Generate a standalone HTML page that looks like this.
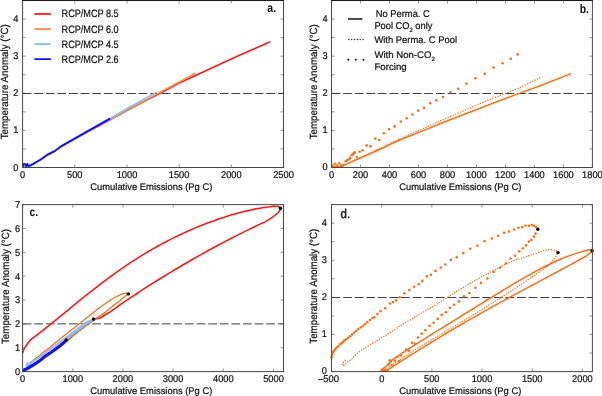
<!DOCTYPE html><html><head><meta charset="utf-8"><style>html,body{margin:0;padding:0;background:#fff;}svg{display:block;will-change:transform;}</style></head><body><svg width="602" height="396" viewBox="0 0 602 396" text-rendering="geometricPrecision" font-family='"Liberation Sans", sans-serif'>
<rect width="602" height="396" fill="#fff" fill-opacity="0.999"/>
<line x1="22.60" y1="167.50" x2="22.60" y2="164.50" stroke="#666" stroke-width="0.7"/>
<line x1="22.60" y1="0.50" x2="22.60" y2="3.50" stroke="#666" stroke-width="0.7"/>
<line x1="74.78" y1="167.50" x2="74.78" y2="164.50" stroke="#666" stroke-width="0.7"/>
<line x1="74.78" y1="0.50" x2="74.78" y2="3.50" stroke="#666" stroke-width="0.7"/>
<line x1="126.96" y1="167.50" x2="126.96" y2="164.50" stroke="#666" stroke-width="0.7"/>
<line x1="126.96" y1="0.50" x2="126.96" y2="3.50" stroke="#666" stroke-width="0.7"/>
<line x1="179.14" y1="167.50" x2="179.14" y2="164.50" stroke="#666" stroke-width="0.7"/>
<line x1="179.14" y1="0.50" x2="179.14" y2="3.50" stroke="#666" stroke-width="0.7"/>
<line x1="231.32" y1="167.50" x2="231.32" y2="164.50" stroke="#666" stroke-width="0.7"/>
<line x1="231.32" y1="0.50" x2="231.32" y2="3.50" stroke="#666" stroke-width="0.7"/>
<line x1="283.50" y1="167.50" x2="283.50" y2="164.50" stroke="#666" stroke-width="0.7"/>
<line x1="283.50" y1="0.50" x2="283.50" y2="3.50" stroke="#666" stroke-width="0.7"/>
<line x1="22.60" y1="167.50" x2="25.60" y2="167.50" stroke="#666" stroke-width="0.7"/>
<line x1="283.50" y1="167.50" x2="280.50" y2="167.50" stroke="#666" stroke-width="0.7"/>
<line x1="22.60" y1="148.94" x2="25.60" y2="148.94" stroke="#666" stroke-width="0.7"/>
<line x1="283.50" y1="148.94" x2="280.50" y2="148.94" stroke="#666" stroke-width="0.7"/>
<line x1="22.60" y1="130.39" x2="25.60" y2="130.39" stroke="#666" stroke-width="0.7"/>
<line x1="283.50" y1="130.39" x2="280.50" y2="130.39" stroke="#666" stroke-width="0.7"/>
<line x1="22.60" y1="111.83" x2="25.60" y2="111.83" stroke="#666" stroke-width="0.7"/>
<line x1="283.50" y1="111.83" x2="280.50" y2="111.83" stroke="#666" stroke-width="0.7"/>
<line x1="22.60" y1="93.28" x2="25.60" y2="93.28" stroke="#666" stroke-width="0.7"/>
<line x1="283.50" y1="93.28" x2="280.50" y2="93.28" stroke="#666" stroke-width="0.7"/>
<line x1="22.60" y1="74.72" x2="25.60" y2="74.72" stroke="#666" stroke-width="0.7"/>
<line x1="283.50" y1="74.72" x2="280.50" y2="74.72" stroke="#666" stroke-width="0.7"/>
<line x1="22.60" y1="56.17" x2="25.60" y2="56.17" stroke="#666" stroke-width="0.7"/>
<line x1="283.50" y1="56.17" x2="280.50" y2="56.17" stroke="#666" stroke-width="0.7"/>
<line x1="22.60" y1="37.61" x2="25.60" y2="37.61" stroke="#666" stroke-width="0.7"/>
<line x1="283.50" y1="37.61" x2="280.50" y2="37.61" stroke="#666" stroke-width="0.7"/>
<line x1="22.60" y1="19.06" x2="25.60" y2="19.06" stroke="#666" stroke-width="0.7"/>
<line x1="283.50" y1="19.06" x2="280.50" y2="19.06" stroke="#666" stroke-width="0.7"/>
<line x1="22.60" y1="0.50" x2="25.60" y2="0.50" stroke="#666" stroke-width="0.7"/>
<line x1="283.50" y1="0.50" x2="280.50" y2="0.50" stroke="#666" stroke-width="0.7"/>
<text x="22.6" y="177.9" font-size="9.8" text-anchor="middle" font-weight="normal" fill="#111" stroke="#111" stroke-width="0.22" textLength="5.15" lengthAdjust="spacingAndGlyphs">0</text>
<text x="74.8" y="177.9" font-size="9.8" text-anchor="middle" font-weight="normal" fill="#111" stroke="#111" stroke-width="0.22" textLength="15.45" lengthAdjust="spacingAndGlyphs">500</text>
<text x="127.0" y="177.9" font-size="9.8" text-anchor="middle" font-weight="normal" fill="#111" stroke="#111" stroke-width="0.22" textLength="20.60" lengthAdjust="spacingAndGlyphs">1000</text>
<text x="179.1" y="177.9" font-size="9.8" text-anchor="middle" font-weight="normal" fill="#111" stroke="#111" stroke-width="0.22" textLength="20.60" lengthAdjust="spacingAndGlyphs">1500</text>
<text x="231.3" y="177.9" font-size="9.8" text-anchor="middle" font-weight="normal" fill="#111" stroke="#111" stroke-width="0.22" textLength="20.60" lengthAdjust="spacingAndGlyphs">2000</text>
<text x="283.5" y="177.9" font-size="9.8" text-anchor="middle" font-weight="normal" fill="#111" stroke="#111" stroke-width="0.22" textLength="20.60" lengthAdjust="spacingAndGlyphs">2500</text>
<text x="18.3" y="170.5" font-size="9.8" text-anchor="end" font-weight="normal" fill="#111" stroke="#111" stroke-width="0.22" textLength="5.15" lengthAdjust="spacingAndGlyphs">0</text>
<text x="18.3" y="133.4" font-size="9.8" text-anchor="end" font-weight="normal" fill="#111" stroke="#111" stroke-width="0.22" textLength="5.15" lengthAdjust="spacingAndGlyphs">1</text>
<text x="18.3" y="96.3" font-size="9.8" text-anchor="end" font-weight="normal" fill="#111" stroke="#111" stroke-width="0.22" textLength="5.15" lengthAdjust="spacingAndGlyphs">2</text>
<text x="18.3" y="59.2" font-size="9.8" text-anchor="end" font-weight="normal" fill="#111" stroke="#111" stroke-width="0.22" textLength="5.15" lengthAdjust="spacingAndGlyphs">3</text>
<text x="18.3" y="22.1" font-size="9.8" text-anchor="end" font-weight="normal" fill="#111" stroke="#111" stroke-width="0.22" textLength="5.15" lengthAdjust="spacingAndGlyphs">4</text>
<line x1="22.60" y1="93.50" x2="283.50" y2="93.50" stroke="#404040" stroke-width="1.0" stroke-dasharray="8.8 2.8"/>
<polyline points="22.8,167.0 33.9,163.6 40.8,159.4 47.8,154.6 54.7,151.1 60.3,146.9 68.6,142.1 80.0,135.6 100.0,125.3 130.0,108.9 150.0,98.4 165.0,90.7 180.3,82.4 195.0,75.7 210.0,68.8 240.0,55.0 255.0,48.4 269.5,41.9" fill="none" stroke="#ff1a1a" stroke-width="1.6" stroke-linejoin="round" stroke-linecap="round" />
<polyline points="22.8,167.0 33.9,163.6 40.8,159.4 47.8,154.6 54.7,151.1 60.3,146.9 68.6,142.1 80.0,135.6 100.0,125.0 130.0,108.5 150.0,97.9 157.0,94.0 176.0,83.8 195.1,73.5" fill="none" stroke="#ff8a3d" stroke-width="1.6" stroke-linejoin="round" stroke-linecap="round" />
<polyline points="22.8,166.7 33.9,163.3 40.8,159.1 47.8,154.3 54.7,150.8 60.3,146.6 68.6,141.8 80.0,135.3 109.5,118.7 130.0,107.0 156.2,92.4" fill="none" stroke="#80bfff" stroke-width="1.6" stroke-linejoin="round" stroke-linecap="round" />
<polyline points="22.8,166.8 23.5,163.8 24.9,163.9 26.0,166.2 27.4,163.7 28.3,166.2 31.1,165.3 33.9,163.6 40.8,159.4 47.8,154.6 54.7,151.1 60.3,146.9 68.6,142.1 80.0,135.6 109.5,118.9" fill="none" stroke="#1010ff" stroke-width="1.8" stroke-linejoin="round" stroke-linecap="round" />
<line x1="34.4" y1="14.00" x2="50.8" y2="14.00" stroke="#ff1a1a" stroke-width="1.8"/>
<text x="61.6" y="17.4" font-size="10.6" text-anchor="start" font-weight="normal" fill="#111" stroke="#111" stroke-width="0.22" textLength="57" lengthAdjust="spacingAndGlyphs">RCP/MCP 8.5</text>
<line x1="34.4" y1="29.05" x2="50.8" y2="29.05" stroke="#ff8a3d" stroke-width="1.8"/>
<text x="61.6" y="32.5" font-size="10.6" text-anchor="start" font-weight="normal" fill="#111" stroke="#111" stroke-width="0.22" textLength="57" lengthAdjust="spacingAndGlyphs">RCP/MCP 6.0</text>
<line x1="34.4" y1="44.10" x2="50.8" y2="44.10" stroke="#80bfff" stroke-width="1.8"/>
<text x="61.6" y="47.5" font-size="10.6" text-anchor="start" font-weight="normal" fill="#111" stroke="#111" stroke-width="0.22" textLength="57" lengthAdjust="spacingAndGlyphs">RCP/MCP 4.5</text>
<line x1="34.4" y1="59.15" x2="50.8" y2="59.15" stroke="#1010ff" stroke-width="1.8"/>
<text x="61.6" y="62.6" font-size="10.6" text-anchor="start" font-weight="normal" fill="#111" stroke="#111" stroke-width="0.22" textLength="57" lengthAdjust="spacingAndGlyphs">RCP/MCP 2.6</text>
<text x="267.3" y="11.9" font-size="12.5" text-anchor="start" font-weight="bold" fill="#111"  textLength="8.8" lengthAdjust="spacingAndGlyphs">a.</text>
<rect x="22.60" y="0.50" width="260.90" height="167.00" fill="none" stroke="#484848" stroke-width="1"/>
<line x1="22.10" y1="0.5" x2="284.00" y2="0.5" stroke="#1a1a1a" stroke-width="1"/>
<text x="151.3" y="189.9" font-size="9.6" text-anchor="middle" font-weight="normal" fill="#111" stroke="#111" stroke-width="0.22" textLength="122" lengthAdjust="spacingAndGlyphs">Cumulative Emissions (Pg C)</text>
<text transform="translate(7.6,81.8) rotate(-90)" x="0" y="0" font-size="10.4" text-anchor="middle" fill="#111" stroke="#111" stroke-width="0.22" textLength="115" lengthAdjust="spacingAndGlyphs">Temperature Anomaly (°C)</text>
<line x1="331.50" y1="167.50" x2="331.50" y2="164.50" stroke="#666" stroke-width="0.7"/>
<line x1="331.50" y1="0.50" x2="331.50" y2="3.50" stroke="#666" stroke-width="0.7"/>
<line x1="360.49" y1="167.50" x2="360.49" y2="164.50" stroke="#666" stroke-width="0.7"/>
<line x1="360.49" y1="0.50" x2="360.49" y2="3.50" stroke="#666" stroke-width="0.7"/>
<line x1="389.48" y1="167.50" x2="389.48" y2="164.50" stroke="#666" stroke-width="0.7"/>
<line x1="389.48" y1="0.50" x2="389.48" y2="3.50" stroke="#666" stroke-width="0.7"/>
<line x1="418.47" y1="167.50" x2="418.47" y2="164.50" stroke="#666" stroke-width="0.7"/>
<line x1="418.47" y1="0.50" x2="418.47" y2="3.50" stroke="#666" stroke-width="0.7"/>
<line x1="447.46" y1="167.50" x2="447.46" y2="164.50" stroke="#666" stroke-width="0.7"/>
<line x1="447.46" y1="0.50" x2="447.46" y2="3.50" stroke="#666" stroke-width="0.7"/>
<line x1="476.44" y1="167.50" x2="476.44" y2="164.50" stroke="#666" stroke-width="0.7"/>
<line x1="476.44" y1="0.50" x2="476.44" y2="3.50" stroke="#666" stroke-width="0.7"/>
<line x1="505.43" y1="167.50" x2="505.43" y2="164.50" stroke="#666" stroke-width="0.7"/>
<line x1="505.43" y1="0.50" x2="505.43" y2="3.50" stroke="#666" stroke-width="0.7"/>
<line x1="534.42" y1="167.50" x2="534.42" y2="164.50" stroke="#666" stroke-width="0.7"/>
<line x1="534.42" y1="0.50" x2="534.42" y2="3.50" stroke="#666" stroke-width="0.7"/>
<line x1="563.41" y1="167.50" x2="563.41" y2="164.50" stroke="#666" stroke-width="0.7"/>
<line x1="563.41" y1="0.50" x2="563.41" y2="3.50" stroke="#666" stroke-width="0.7"/>
<line x1="592.40" y1="167.50" x2="592.40" y2="164.50" stroke="#666" stroke-width="0.7"/>
<line x1="592.40" y1="0.50" x2="592.40" y2="3.50" stroke="#666" stroke-width="0.7"/>
<line x1="331.50" y1="167.50" x2="334.50" y2="167.50" stroke="#666" stroke-width="0.7"/>
<line x1="592.40" y1="167.50" x2="589.40" y2="167.50" stroke="#666" stroke-width="0.7"/>
<line x1="331.50" y1="148.94" x2="334.50" y2="148.94" stroke="#666" stroke-width="0.7"/>
<line x1="592.40" y1="148.94" x2="589.40" y2="148.94" stroke="#666" stroke-width="0.7"/>
<line x1="331.50" y1="130.39" x2="334.50" y2="130.39" stroke="#666" stroke-width="0.7"/>
<line x1="592.40" y1="130.39" x2="589.40" y2="130.39" stroke="#666" stroke-width="0.7"/>
<line x1="331.50" y1="111.83" x2="334.50" y2="111.83" stroke="#666" stroke-width="0.7"/>
<line x1="592.40" y1="111.83" x2="589.40" y2="111.83" stroke="#666" stroke-width="0.7"/>
<line x1="331.50" y1="93.28" x2="334.50" y2="93.28" stroke="#666" stroke-width="0.7"/>
<line x1="592.40" y1="93.28" x2="589.40" y2="93.28" stroke="#666" stroke-width="0.7"/>
<line x1="331.50" y1="74.72" x2="334.50" y2="74.72" stroke="#666" stroke-width="0.7"/>
<line x1="592.40" y1="74.72" x2="589.40" y2="74.72" stroke="#666" stroke-width="0.7"/>
<line x1="331.50" y1="56.17" x2="334.50" y2="56.17" stroke="#666" stroke-width="0.7"/>
<line x1="592.40" y1="56.17" x2="589.40" y2="56.17" stroke="#666" stroke-width="0.7"/>
<line x1="331.50" y1="37.61" x2="334.50" y2="37.61" stroke="#666" stroke-width="0.7"/>
<line x1="592.40" y1="37.61" x2="589.40" y2="37.61" stroke="#666" stroke-width="0.7"/>
<line x1="331.50" y1="19.06" x2="334.50" y2="19.06" stroke="#666" stroke-width="0.7"/>
<line x1="592.40" y1="19.06" x2="589.40" y2="19.06" stroke="#666" stroke-width="0.7"/>
<line x1="331.50" y1="0.50" x2="334.50" y2="0.50" stroke="#666" stroke-width="0.7"/>
<line x1="592.40" y1="0.50" x2="589.40" y2="0.50" stroke="#666" stroke-width="0.7"/>
<text x="331.5" y="177.9" font-size="9.8" text-anchor="middle" font-weight="normal" fill="#111" stroke="#111" stroke-width="0.22" textLength="5.15" lengthAdjust="spacingAndGlyphs">0</text>
<text x="360.5" y="177.9" font-size="9.8" text-anchor="middle" font-weight="normal" fill="#111" stroke="#111" stroke-width="0.22" textLength="15.45" lengthAdjust="spacingAndGlyphs">200</text>
<text x="389.5" y="177.9" font-size="9.8" text-anchor="middle" font-weight="normal" fill="#111" stroke="#111" stroke-width="0.22" textLength="15.45" lengthAdjust="spacingAndGlyphs">400</text>
<text x="418.5" y="177.9" font-size="9.8" text-anchor="middle" font-weight="normal" fill="#111" stroke="#111" stroke-width="0.22" textLength="15.45" lengthAdjust="spacingAndGlyphs">600</text>
<text x="447.5" y="177.9" font-size="9.8" text-anchor="middle" font-weight="normal" fill="#111" stroke="#111" stroke-width="0.22" textLength="15.45" lengthAdjust="spacingAndGlyphs">800</text>
<text x="476.4" y="177.9" font-size="9.8" text-anchor="middle" font-weight="normal" fill="#111" stroke="#111" stroke-width="0.22" textLength="20.60" lengthAdjust="spacingAndGlyphs">1000</text>
<text x="505.4" y="177.9" font-size="9.8" text-anchor="middle" font-weight="normal" fill="#111" stroke="#111" stroke-width="0.22" textLength="20.60" lengthAdjust="spacingAndGlyphs">1200</text>
<text x="534.4" y="177.9" font-size="9.8" text-anchor="middle" font-weight="normal" fill="#111" stroke="#111" stroke-width="0.22" textLength="20.60" lengthAdjust="spacingAndGlyphs">1400</text>
<text x="563.4" y="177.9" font-size="9.8" text-anchor="middle" font-weight="normal" fill="#111" stroke="#111" stroke-width="0.22" textLength="20.60" lengthAdjust="spacingAndGlyphs">1600</text>
<text x="592.4" y="177.9" font-size="9.8" text-anchor="middle" font-weight="normal" fill="#111" stroke="#111" stroke-width="0.22" textLength="20.60" lengthAdjust="spacingAndGlyphs">1800</text>
<text x="327.6" y="170.2" font-size="9.8" text-anchor="end" font-weight="normal" fill="#111" stroke="#111" stroke-width="0.22" textLength="5.15" lengthAdjust="spacingAndGlyphs">0</text>
<text x="327.6" y="133.1" font-size="9.8" text-anchor="end" font-weight="normal" fill="#111" stroke="#111" stroke-width="0.22" textLength="5.15" lengthAdjust="spacingAndGlyphs">1</text>
<text x="327.6" y="96.0" font-size="9.8" text-anchor="end" font-weight="normal" fill="#111" stroke="#111" stroke-width="0.22" textLength="5.15" lengthAdjust="spacingAndGlyphs">2</text>
<text x="327.6" y="58.9" font-size="9.8" text-anchor="end" font-weight="normal" fill="#111" stroke="#111" stroke-width="0.22" textLength="5.15" lengthAdjust="spacingAndGlyphs">3</text>
<text x="327.6" y="21.8" font-size="9.8" text-anchor="end" font-weight="normal" fill="#111" stroke="#111" stroke-width="0.22" textLength="5.15" lengthAdjust="spacingAndGlyphs">4</text>
<line x1="331.50" y1="93.50" x2="592.40" y2="93.50" stroke="#404040" stroke-width="1.0" stroke-dasharray="8.8 2.8"/>
<polyline points="331.8,166.8 338.0,166.7 341.0,166.4 345.0,164.9 354.9,160.4 364.9,156.0 374.9,151.5 384.9,147.0 395.0,142.0 420.0,131.9 450.0,119.8 475.4,110.0 500.0,100.5 520.0,93.1 540.0,85.8 570.5,73.9" fill="none" stroke="#ff6e14" stroke-width="1.5" stroke-linejoin="round" stroke-linecap="round" />
<polyline points="331.8,166.6 341.0,166.2 345.0,164.6 354.9,160.0 364.9,155.4 374.9,150.8 384.9,146.1 395.0,141.0 420.0,130.0 450.0,116.6 470.0,108.0 490.0,99.3 520.0,87.7 541.4,76.8" fill="none" stroke="#ff6e14" stroke-width="1.4" stroke-linejoin="round" stroke-linecap="round" stroke-dasharray="0.1 2.6"/>
<circle cx="332.3" cy="165.6" r="1.3" fill="#ff6e14"/>
<circle cx="334.6" cy="163.9" r="1.3" fill="#ff6e14"/>
<circle cx="336.8" cy="165.6" r="1.3" fill="#ff6e14"/>
<circle cx="339.2" cy="163.4" r="1.3" fill="#ff6e14"/>
<circle cx="341.3" cy="165.3" r="1.3" fill="#ff6e14"/>
<circle cx="343.4" cy="165.2" r="1.3" fill="#ff6e14"/>
<circle cx="345.7" cy="161.3" r="1.3" fill="#ff6e14"/>
<circle cx="347.2" cy="160.3" r="1.3" fill="#ff6e14"/>
<circle cx="348.7" cy="159.3" r="1.3" fill="#ff6e14"/>
<circle cx="350.2" cy="157.8" r="1.3" fill="#ff6e14"/>
<circle cx="351.7" cy="155.3" r="1.3" fill="#ff6e14"/>
<circle cx="352.7" cy="154.2" r="1.3" fill="#ff6e14"/>
<circle cx="353.7" cy="153.2" r="1.3" fill="#ff6e14"/>
<circle cx="354.7" cy="152.4" r="1.3" fill="#ff6e14"/>
<circle cx="356.8" cy="157.1" r="1.3" fill="#ff6e14"/>
<circle cx="359.6" cy="151.7" r="1.3" fill="#ff6e14"/>
<circle cx="362.6" cy="150.2" r="1.3" fill="#ff6e14"/>
<circle cx="366.6" cy="145.4" r="1.3" fill="#ff6e14"/>
<circle cx="370.6" cy="146.4" r="1.3" fill="#ff6e14"/>
<circle cx="375.2" cy="138.8" r="1.3" fill="#ff6e14"/>
<circle cx="379.2" cy="140.0" r="1.3" fill="#ff6e14"/>
<circle cx="383.9" cy="133.2" r="1.3" fill="#ff6e14"/>
<circle cx="389.1" cy="129.3" r="1.3" fill="#ff6e14"/>
<circle cx="394.6" cy="126.4" r="1.3" fill="#ff6e14"/>
<circle cx="400.8" cy="121.5" r="1.3" fill="#ff6e14"/>
<circle cx="406.6" cy="118.3" r="1.3" fill="#ff6e14"/>
<circle cx="412.4" cy="114.5" r="1.3" fill="#ff6e14"/>
<circle cx="418.1" cy="110.6" r="1.3" fill="#ff6e14"/>
<circle cx="423.9" cy="107.9" r="1.3" fill="#ff6e14"/>
<circle cx="430.1" cy="103.3" r="1.3" fill="#ff6e14"/>
<circle cx="436.3" cy="100.3" r="1.3" fill="#ff6e14"/>
<circle cx="443.0" cy="97.1" r="1.3" fill="#ff6e14"/>
<circle cx="450.4" cy="92.2" r="1.3" fill="#ff6e14"/>
<circle cx="458.2" cy="88.8" r="1.3" fill="#ff6e14"/>
<circle cx="466.5" cy="83.7" r="1.3" fill="#ff6e14"/>
<circle cx="475.4" cy="78.2" r="1.3" fill="#ff6e14"/>
<circle cx="484.7" cy="73.9" r="1.3" fill="#ff6e14"/>
<circle cx="493.5" cy="67.6" r="1.3" fill="#ff6e14"/>
<circle cx="502.6" cy="63.3" r="1.3" fill="#ff6e14"/>
<circle cx="510.7" cy="58.8" r="1.3" fill="#ff6e14"/>
<circle cx="517.6" cy="54.4" r="1.3" fill="#ff6e14"/>
<line x1="348" y1="19.0" x2="362.4" y2="19.0" stroke="#111" stroke-width="1.5"/>
<circle cx="348.8" cy="39.6" r="0.75" fill="#2a2a2a"/>
<circle cx="351.7" cy="39.6" r="0.75" fill="#2a2a2a"/>
<circle cx="354.5" cy="39.6" r="0.75" fill="#2a2a2a"/>
<circle cx="357.4" cy="39.6" r="0.75" fill="#2a2a2a"/>
<circle cx="360.2" cy="39.6" r="0.75" fill="#2a2a2a"/>
<circle cx="363.1" cy="39.6" r="0.75" fill="#2a2a2a"/>
<circle cx="348.3" cy="59.8" r="1.0" fill="#111"/>
<circle cx="355.8" cy="59.8" r="1.0" fill="#111"/>
<circle cx="363.5" cy="59.8" r="1.0" fill="#111"/>
<text x="402.8" y="17.2" font-size="9.8" text-anchor="middle" font-weight="normal" fill="#111" stroke="#111" stroke-width="0.22" textLength="54" lengthAdjust="spacingAndGlyphs">No Perma. C</text>
<text x="374.4" y="29.1" font-size="9.8" text-anchor="start" font-weight="normal" fill="#111" stroke="#111" stroke-width="0.22" textLength="58" lengthAdjust="spacingAndGlyphs">Pool CO<tspan font-size="6.2" dy="2.6">2</tspan><tspan dy="-2.6"> only</tspan></text>
<text x="374.4" y="43.2" font-size="9.6" text-anchor="start" font-weight="normal" fill="#111" stroke="#111" stroke-width="0.22" textLength="82.6" lengthAdjust="spacingAndGlyphs">With Perma. C Pool</text>
<text x="374.4" y="58.2" font-size="9.6" text-anchor="start" font-weight="normal" fill="#111" stroke="#111" stroke-width="0.22" >With Non-CO<tspan font-size="6.2" dy="2.6">2</tspan></text>
<text x="374.4" y="70.2" font-size="9.6" text-anchor="start" font-weight="normal" fill="#111" stroke="#111" stroke-width="0.22" textLength="32.3" lengthAdjust="spacingAndGlyphs">Forcing</text>
<text x="579.8" y="13.3" font-size="12.5" text-anchor="start" font-weight="bold" fill="#111"  textLength="9.2" lengthAdjust="spacingAndGlyphs">b.</text>
<rect x="331.50" y="0.50" width="260.90" height="167.00" fill="none" stroke="#484848" stroke-width="1"/>
<line x1="331.00" y1="0.5" x2="592.90" y2="0.5" stroke="#1a1a1a" stroke-width="1"/>
<text x="460.3" y="189.9" font-size="9.6" text-anchor="middle" font-weight="normal" fill="#111" stroke="#111" stroke-width="0.22" textLength="122" lengthAdjust="spacingAndGlyphs">Cumulative Emissions (Pg C)</text>
<text transform="translate(317.2,81.8) rotate(-90)" x="0" y="0" font-size="10.4" text-anchor="middle" fill="#111" stroke="#111" stroke-width="0.22" textLength="115" lengthAdjust="spacingAndGlyphs">Temperature Anomaly (°C)</text>
<line x1="22.60" y1="371.60" x2="22.60" y2="368.60" stroke="#666" stroke-width="0.7"/>
<line x1="22.60" y1="204.60" x2="22.60" y2="207.60" stroke="#666" stroke-width="0.7"/>
<line x1="72.77" y1="371.60" x2="72.77" y2="368.60" stroke="#666" stroke-width="0.7"/>
<line x1="72.77" y1="204.60" x2="72.77" y2="207.60" stroke="#666" stroke-width="0.7"/>
<line x1="122.95" y1="371.60" x2="122.95" y2="368.60" stroke="#666" stroke-width="0.7"/>
<line x1="122.95" y1="204.60" x2="122.95" y2="207.60" stroke="#666" stroke-width="0.7"/>
<line x1="173.12" y1="371.60" x2="173.12" y2="368.60" stroke="#666" stroke-width="0.7"/>
<line x1="173.12" y1="204.60" x2="173.12" y2="207.60" stroke="#666" stroke-width="0.7"/>
<line x1="223.29" y1="371.60" x2="223.29" y2="368.60" stroke="#666" stroke-width="0.7"/>
<line x1="223.29" y1="204.60" x2="223.29" y2="207.60" stroke="#666" stroke-width="0.7"/>
<line x1="273.47" y1="371.60" x2="273.47" y2="368.60" stroke="#666" stroke-width="0.7"/>
<line x1="273.47" y1="204.60" x2="273.47" y2="207.60" stroke="#666" stroke-width="0.7"/>
<line x1="22.60" y1="371.60" x2="25.60" y2="371.60" stroke="#666" stroke-width="0.7"/>
<line x1="283.50" y1="371.60" x2="280.50" y2="371.60" stroke="#666" stroke-width="0.7"/>
<line x1="22.60" y1="347.74" x2="25.60" y2="347.74" stroke="#666" stroke-width="0.7"/>
<line x1="283.50" y1="347.74" x2="280.50" y2="347.74" stroke="#666" stroke-width="0.7"/>
<line x1="22.60" y1="323.89" x2="25.60" y2="323.89" stroke="#666" stroke-width="0.7"/>
<line x1="283.50" y1="323.89" x2="280.50" y2="323.89" stroke="#666" stroke-width="0.7"/>
<line x1="22.60" y1="300.03" x2="25.60" y2="300.03" stroke="#666" stroke-width="0.7"/>
<line x1="283.50" y1="300.03" x2="280.50" y2="300.03" stroke="#666" stroke-width="0.7"/>
<line x1="22.60" y1="276.17" x2="25.60" y2="276.17" stroke="#666" stroke-width="0.7"/>
<line x1="283.50" y1="276.17" x2="280.50" y2="276.17" stroke="#666" stroke-width="0.7"/>
<line x1="22.60" y1="252.31" x2="25.60" y2="252.31" stroke="#666" stroke-width="0.7"/>
<line x1="283.50" y1="252.31" x2="280.50" y2="252.31" stroke="#666" stroke-width="0.7"/>
<line x1="22.60" y1="228.46" x2="25.60" y2="228.46" stroke="#666" stroke-width="0.7"/>
<line x1="283.50" y1="228.46" x2="280.50" y2="228.46" stroke="#666" stroke-width="0.7"/>
<line x1="22.60" y1="204.60" x2="25.60" y2="204.60" stroke="#666" stroke-width="0.7"/>
<line x1="283.50" y1="204.60" x2="280.50" y2="204.60" stroke="#666" stroke-width="0.7"/>
<text x="22.6" y="382.0" font-size="9.8" text-anchor="middle" font-weight="normal" fill="#111" stroke="#111" stroke-width="0.22" textLength="5.15" lengthAdjust="spacingAndGlyphs">0</text>
<text x="72.8" y="382.0" font-size="9.8" text-anchor="middle" font-weight="normal" fill="#111" stroke="#111" stroke-width="0.22" textLength="20.60" lengthAdjust="spacingAndGlyphs">1000</text>
<text x="122.9" y="382.0" font-size="9.8" text-anchor="middle" font-weight="normal" fill="#111" stroke="#111" stroke-width="0.22" textLength="20.60" lengthAdjust="spacingAndGlyphs">2000</text>
<text x="173.1" y="382.0" font-size="9.8" text-anchor="middle" font-weight="normal" fill="#111" stroke="#111" stroke-width="0.22" textLength="20.60" lengthAdjust="spacingAndGlyphs">3000</text>
<text x="223.3" y="382.0" font-size="9.8" text-anchor="middle" font-weight="normal" fill="#111" stroke="#111" stroke-width="0.22" textLength="20.60" lengthAdjust="spacingAndGlyphs">4000</text>
<text x="273.5" y="382.0" font-size="9.8" text-anchor="middle" font-weight="normal" fill="#111" stroke="#111" stroke-width="0.22" textLength="20.60" lengthAdjust="spacingAndGlyphs">5000</text>
<text x="20.1" y="375.0" font-size="9.8" text-anchor="end" font-weight="normal" fill="#111" stroke="#111" stroke-width="0.22" textLength="5.15" lengthAdjust="spacingAndGlyphs">0</text>
<text x="20.1" y="351.1" font-size="9.8" text-anchor="end" font-weight="normal" fill="#111" stroke="#111" stroke-width="0.22" textLength="5.15" lengthAdjust="spacingAndGlyphs">1</text>
<text x="20.1" y="327.3" font-size="9.8" text-anchor="end" font-weight="normal" fill="#111" stroke="#111" stroke-width="0.22" textLength="5.15" lengthAdjust="spacingAndGlyphs">2</text>
<text x="20.1" y="303.4" font-size="9.8" text-anchor="end" font-weight="normal" fill="#111" stroke="#111" stroke-width="0.22" textLength="5.15" lengthAdjust="spacingAndGlyphs">3</text>
<text x="20.1" y="279.6" font-size="9.8" text-anchor="end" font-weight="normal" fill="#111" stroke="#111" stroke-width="0.22" textLength="5.15" lengthAdjust="spacingAndGlyphs">4</text>
<text x="20.1" y="255.7" font-size="9.8" text-anchor="end" font-weight="normal" fill="#111" stroke="#111" stroke-width="0.22" textLength="5.15" lengthAdjust="spacingAndGlyphs">5</text>
<text x="20.1" y="231.9" font-size="9.8" text-anchor="end" font-weight="normal" fill="#111" stroke="#111" stroke-width="0.22" textLength="5.15" lengthAdjust="spacingAndGlyphs">6</text>
<text x="20.1" y="208.0" font-size="9.8" text-anchor="end" font-weight="normal" fill="#111" stroke="#111" stroke-width="0.22" textLength="5.15" lengthAdjust="spacingAndGlyphs">7</text>
<line x1="22.60" y1="323.89" x2="283.50" y2="323.89" stroke="#404040" stroke-width="1.0" stroke-dasharray="8.8 2.8"/>
<path d="M22.80,352.40 C22.85,352.23 22.83,352.08 23.10,351.40 C23.37,350.72 23.88,349.25 24.40,348.30 C24.92,347.35 25.60,346.58 26.20,345.70 C26.80,344.82 27.27,343.97 28.00,343.00 C28.73,342.03 29.27,341.12 30.60,339.90 C31.93,338.68 34.43,336.91 36.00,335.70 C37.57,334.49 38.67,333.67 40.00,332.63 C41.33,331.60 42.67,330.55 44.00,329.50 C45.33,328.45 46.67,327.39 48.00,326.32 C49.33,325.25 50.67,324.18 52.00,323.10 C53.33,322.02 54.67,320.93 56.00,319.85 C57.33,318.76 58.67,317.67 60.00,316.58 C61.33,315.49 62.67,314.39 64.00,313.30 C65.33,312.20 66.67,311.11 68.00,310.01 C69.33,308.92 70.67,307.82 72.00,306.73 C73.33,305.64 74.67,304.55 76.00,303.47 C77.33,302.38 78.67,301.30 80.00,300.22 C81.33,299.14 82.67,298.06 84.00,296.99 C85.33,295.92 86.67,294.86 88.00,293.80 C89.33,292.74 90.67,291.69 92.00,290.64 C93.33,289.59 94.67,288.55 96.00,287.52 C97.33,286.49 98.67,285.46 100.00,284.44 C101.33,283.43 102.67,282.41 104.00,281.41 C105.33,280.41 106.67,279.42 108.00,278.43 C109.33,277.45 110.67,276.47 112.00,275.50 C113.33,274.53 114.67,273.57 116.00,272.63 C117.33,271.68 118.67,270.74 120.00,269.81 C121.33,268.88 122.67,267.96 124.00,267.05 C125.33,266.13 126.67,265.23 128.00,264.34 C129.33,263.45 130.67,262.57 132.00,261.70 C133.33,260.83 134.67,259.97 136.00,259.12 C137.33,258.27 138.67,257.43 140.00,256.60 C141.33,255.77 142.67,254.95 144.00,254.14 C145.33,253.33 146.67,252.53 148.00,251.74 C149.33,250.95 150.67,250.18 152.00,249.41 C153.33,248.64 154.67,247.88 156.00,247.13 C157.33,246.38 158.67,245.65 160.00,244.92 C161.33,244.19 162.67,243.47 164.00,242.76 C165.33,242.06 166.67,241.36 168.00,240.67 C169.33,239.98 170.67,239.30 172.00,238.64 C173.33,237.97 174.67,237.31 176.00,236.66 C177.33,236.01 178.67,235.37 180.00,234.74 C181.33,234.11 182.67,233.49 184.00,232.88 C185.33,232.27 186.67,231.66 188.00,231.07 C189.33,230.48 190.67,229.89 192.00,229.32 C193.33,228.75 194.67,228.18 196.00,227.62 C197.33,227.07 198.67,226.52 200.00,225.98 C201.33,225.45 202.67,224.92 204.00,224.40 C205.33,223.88 206.67,223.37 208.00,222.86 C209.33,222.36 210.67,221.87 212.00,221.39 C213.33,220.90 214.67,220.43 216.00,219.96 C217.33,219.50 218.67,219.04 220.00,218.59 C221.33,218.14 222.67,217.71 224.00,217.28 C225.33,216.85 226.67,216.43 228.00,216.02 C229.33,215.61 230.67,215.21 232.00,214.82 C233.33,214.43 234.67,214.05 236.00,213.67 C237.33,213.30 238.67,212.94 240.00,212.59 C241.33,212.24 242.67,211.90 244.00,211.57 C245.33,211.24 246.67,210.92 248.00,210.62 C249.33,210.31 250.67,210.01 252.00,209.73 C253.33,209.44 254.67,209.17 256.00,208.91 C257.33,208.65 258.67,208.40 260.00,208.17 C261.33,207.93 262.67,207.71 264.00,207.50 C265.33,207.30 266.67,207.10 268.00,206.92 C269.33,206.74 270.97,206.55 272.00,206.43 C273.03,206.31 273.27,206.20 274.20,206.20 C275.13,206.19 276.70,206.23 277.60,206.40 C278.50,206.57 279.12,206.90 279.60,207.20 C280.08,207.50 280.35,208.03 280.50,208.20" fill="none" stroke="#ff1a1a" stroke-width="1.6" stroke-linejoin="round" stroke-linecap="round" />
<path d="M22.80,370.90 C24.50,369.90 29.30,367.18 33.00,364.90 C36.70,362.62 40.50,360.25 45.00,357.20 C49.50,354.15 56.47,349.20 60.00,346.60 C63.53,344.00 63.70,343.70 66.20,341.60 C68.70,339.50 71.62,336.73 75.00,334.00 C78.38,331.27 83.17,327.67 86.50,325.20 C89.83,322.73 92.73,320.42 95.00,319.20 C97.27,317.98 98.42,318.63 100.10,317.90 C101.78,317.17 103.42,315.82 105.10,314.80 C106.78,313.78 108.52,312.88 110.20,311.80 C111.88,310.72 113.52,309.48 115.20,308.30 C116.88,307.12 118.62,305.88 120.30,304.70 C121.98,303.52 123.62,302.37 125.30,301.20 C126.98,300.03 128.72,298.80 130.40,297.70 C132.08,296.60 133.80,295.67 135.40,294.60 C137.00,293.53 138.23,292.48 140.00,291.29 C141.77,290.10 144.00,288.73 146.00,287.47 C148.00,286.20 150.00,284.94 152.00,283.69 C154.00,282.44 156.00,281.20 158.00,279.96 C160.00,278.73 162.00,277.50 164.00,276.28 C166.00,275.06 168.00,273.84 170.00,272.64 C172.00,271.43 174.00,270.24 176.00,269.05 C178.00,267.86 180.00,266.67 182.00,265.50 C184.00,264.33 186.00,263.16 188.00,262.00 C190.00,260.85 192.00,259.70 194.00,258.56 C196.00,257.42 198.00,256.28 200.00,255.16 C202.00,254.04 204.00,252.92 206.00,251.82 C208.00,250.71 210.00,249.61 212.00,248.52 C214.00,247.43 216.00,246.35 218.00,245.28 C220.00,244.21 222.00,243.15 224.00,242.09 C226.00,241.04 228.00,240.00 230.00,238.96 C232.00,237.93 234.00,236.90 236.00,235.89 C238.00,234.87 240.00,233.86 242.00,232.87 C244.00,231.87 246.00,230.88 248.00,229.90 C250.00,228.92 252.00,227.96 254.00,227.00 C256.00,226.04 258.00,225.09 260.00,224.15 C262.00,223.21 263.52,222.82 266.00,221.37 C268.48,219.91 272.87,216.88 274.90,215.40 C276.93,213.92 277.37,213.37 278.20,212.50 C279.03,211.63 279.52,210.92 279.90,210.20 C280.28,209.48 280.40,208.53 280.50,208.20" fill="none" stroke="#ff1a1a" stroke-width="1.6" stroke-linejoin="round" stroke-linecap="round" />
<path d="M22.80,370.90 C24.50,369.90 29.30,367.18 33.00,364.90 C36.70,362.62 40.50,360.25 45.00,357.20 C49.50,354.15 56.47,349.20 60.00,346.60 C63.53,344.00 63.70,343.70 66.20,341.60 C68.70,339.50 71.62,336.73 75.00,334.00 C78.38,331.27 83.17,327.72 86.50,325.20 C89.83,322.68 92.73,320.45 95.00,318.90 C97.27,317.35 98.42,317.00 100.10,315.90 C101.78,314.80 103.42,313.57 105.10,312.30 C106.78,311.03 108.52,309.65 110.20,308.30 C111.88,306.95 113.52,305.55 115.20,304.20 C116.88,302.85 118.62,301.53 120.30,300.20 C121.98,298.87 123.97,297.25 125.30,296.20 C126.63,295.15 127.80,294.28 128.30,293.90" fill="none" stroke="#ff6e14" stroke-width="1.3" stroke-linejoin="round" stroke-linecap="round" />
<path d="M128.30,293.90 C127.80,293.77 126.63,292.98 125.30,293.10 C123.97,293.22 121.98,293.92 120.30,294.60 C118.62,295.28 116.88,296.27 115.20,297.20 C113.52,298.13 111.88,299.12 110.20,300.20 C108.52,301.28 106.78,302.52 105.10,303.70 C103.42,304.88 101.73,306.10 100.10,307.30 C98.47,308.50 97.57,309.13 95.30,310.90 C93.03,312.67 89.43,315.55 86.50,317.90 C83.57,320.25 80.65,322.63 77.70,325.00 C74.75,327.37 71.75,329.77 68.80,332.10 C65.85,334.43 63.13,336.48 60.00,339.00 C56.87,341.52 52.50,345.22 50.00,347.20 C47.50,349.18 46.55,349.68 45.00,350.90 C43.45,352.12 42.70,352.90 40.70,354.50 C38.70,356.10 35.18,358.77 33.00,360.50 C30.82,362.23 28.68,363.93 27.60,364.90 C26.52,365.87 26.68,366.07 26.50,366.30" fill="none" stroke="#ff6e14" stroke-width="1.3" stroke-linejoin="round" stroke-linecap="round" />
<polyline points="22.8,370.6 33.0,364.5 45.0,356.5 60.0,345.2 68.8,337.2 77.9,330.3 86.5,323.8 93.5,319.0 86.5,322.0 77.9,328.4 68.8,335.2 60.0,342.0 50.0,349.5 45.0,353.1 40.7,356.3 33.0,361.5 28.3,364.8 27.3,362.8 26.6,366.6" fill="none" stroke="#80bfff" stroke-width="1.6" stroke-linejoin="round" stroke-linecap="round" />
<polyline points="22.8,371.4 26.7,369.7 33.0,366.0 40.7,360.8 45.0,357.1 50.0,353.8 55.0,350.3 60.0,346.6 63.9,343.3 66.2,340.0" fill="none" stroke="#1010ff" stroke-width="1.8" stroke-linejoin="round" stroke-linecap="round" />
<polyline points="66.2,340.0 63.9,341.7 60.0,345.0 55.0,348.7 50.0,352.2 45.0,355.5 40.7,359.2 33.0,364.4 26.7,368.1 22.8,369.8" fill="none" stroke="#1010ff" stroke-width="1.8" stroke-linejoin="round" stroke-linecap="round" />
<circle cx="280.5" cy="208.2" r="1.7" fill="#000"/>
<circle cx="128.3" cy="293.9" r="1.7" fill="#000"/>
<circle cx="93.5" cy="319.0" r="1.7" fill="#000"/>
<circle cx="66.2" cy="340.0" r="1.7" fill="#000"/>
<text x="29.6" y="216.1" font-size="12" text-anchor="start" font-weight="bold" fill="#111"  textLength="8.6" lengthAdjust="spacingAndGlyphs">c.</text>
<rect x="22.60" y="204.60" width="260.90" height="167.00" fill="none" stroke="#484848" stroke-width="1"/>
<text x="151.3" y="393.6" font-size="9.6" text-anchor="middle" font-weight="normal" fill="#111" stroke="#111" stroke-width="0.22" textLength="122" lengthAdjust="spacingAndGlyphs">Cumulative Emissions (Pg C)</text>
<text transform="translate(9.1,286.5) rotate(-90)" x="0" y="0" font-size="10.4" text-anchor="middle" fill="#111" stroke="#111" stroke-width="0.22" textLength="115" lengthAdjust="spacingAndGlyphs">Temperature Anomaly (°C)</text>
<line x1="331.50" y1="371.60" x2="331.50" y2="368.60" stroke="#666" stroke-width="0.7"/>
<line x1="331.50" y1="204.60" x2="331.50" y2="207.60" stroke="#666" stroke-width="0.7"/>
<line x1="381.67" y1="371.60" x2="381.67" y2="368.60" stroke="#666" stroke-width="0.7"/>
<line x1="381.67" y1="204.60" x2="381.67" y2="207.60" stroke="#666" stroke-width="0.7"/>
<line x1="431.85" y1="371.60" x2="431.85" y2="368.60" stroke="#666" stroke-width="0.7"/>
<line x1="431.85" y1="204.60" x2="431.85" y2="207.60" stroke="#666" stroke-width="0.7"/>
<line x1="482.02" y1="371.60" x2="482.02" y2="368.60" stroke="#666" stroke-width="0.7"/>
<line x1="482.02" y1="204.60" x2="482.02" y2="207.60" stroke="#666" stroke-width="0.7"/>
<line x1="532.19" y1="371.60" x2="532.19" y2="368.60" stroke="#666" stroke-width="0.7"/>
<line x1="532.19" y1="204.60" x2="532.19" y2="207.60" stroke="#666" stroke-width="0.7"/>
<line x1="582.37" y1="371.60" x2="582.37" y2="368.60" stroke="#666" stroke-width="0.7"/>
<line x1="582.37" y1="204.60" x2="582.37" y2="207.60" stroke="#666" stroke-width="0.7"/>
<line x1="331.50" y1="371.60" x2="334.50" y2="371.60" stroke="#666" stroke-width="0.7"/>
<line x1="592.40" y1="371.60" x2="589.40" y2="371.60" stroke="#666" stroke-width="0.7"/>
<line x1="331.50" y1="353.04" x2="334.50" y2="353.04" stroke="#666" stroke-width="0.7"/>
<line x1="592.40" y1="353.04" x2="589.40" y2="353.04" stroke="#666" stroke-width="0.7"/>
<line x1="331.50" y1="334.49" x2="334.50" y2="334.49" stroke="#666" stroke-width="0.7"/>
<line x1="592.40" y1="334.49" x2="589.40" y2="334.49" stroke="#666" stroke-width="0.7"/>
<line x1="331.50" y1="315.93" x2="334.50" y2="315.93" stroke="#666" stroke-width="0.7"/>
<line x1="592.40" y1="315.93" x2="589.40" y2="315.93" stroke="#666" stroke-width="0.7"/>
<line x1="331.50" y1="297.38" x2="334.50" y2="297.38" stroke="#666" stroke-width="0.7"/>
<line x1="592.40" y1="297.38" x2="589.40" y2="297.38" stroke="#666" stroke-width="0.7"/>
<line x1="331.50" y1="278.82" x2="334.50" y2="278.82" stroke="#666" stroke-width="0.7"/>
<line x1="592.40" y1="278.82" x2="589.40" y2="278.82" stroke="#666" stroke-width="0.7"/>
<line x1="331.50" y1="260.27" x2="334.50" y2="260.27" stroke="#666" stroke-width="0.7"/>
<line x1="592.40" y1="260.27" x2="589.40" y2="260.27" stroke="#666" stroke-width="0.7"/>
<line x1="331.50" y1="241.71" x2="334.50" y2="241.71" stroke="#666" stroke-width="0.7"/>
<line x1="592.40" y1="241.71" x2="589.40" y2="241.71" stroke="#666" stroke-width="0.7"/>
<line x1="331.50" y1="223.16" x2="334.50" y2="223.16" stroke="#666" stroke-width="0.7"/>
<line x1="592.40" y1="223.16" x2="589.40" y2="223.16" stroke="#666" stroke-width="0.7"/>
<line x1="331.50" y1="204.60" x2="334.50" y2="204.60" stroke="#666" stroke-width="0.7"/>
<line x1="592.40" y1="204.60" x2="589.40" y2="204.60" stroke="#666" stroke-width="0.7"/>
<text x="328.5" y="382.0" font-size="9.8" text-anchor="middle" font-weight="normal" fill="#111" stroke="#111" stroke-width="0.22" textLength="21.05" lengthAdjust="spacingAndGlyphs">&#8211;500</text>
<text x="381.7" y="382.0" font-size="9.8" text-anchor="middle" font-weight="normal" fill="#111" stroke="#111" stroke-width="0.22" textLength="5.15" lengthAdjust="spacingAndGlyphs">0</text>
<text x="431.8" y="382.0" font-size="9.8" text-anchor="middle" font-weight="normal" fill="#111" stroke="#111" stroke-width="0.22" textLength="15.45" lengthAdjust="spacingAndGlyphs">500</text>
<text x="482.0" y="382.0" font-size="9.8" text-anchor="middle" font-weight="normal" fill="#111" stroke="#111" stroke-width="0.22" textLength="20.60" lengthAdjust="spacingAndGlyphs">1000</text>
<text x="532.2" y="382.0" font-size="9.8" text-anchor="middle" font-weight="normal" fill="#111" stroke="#111" stroke-width="0.22" textLength="20.60" lengthAdjust="spacingAndGlyphs">1500</text>
<text x="582.4" y="382.0" font-size="9.8" text-anchor="middle" font-weight="normal" fill="#111" stroke="#111" stroke-width="0.22" textLength="20.60" lengthAdjust="spacingAndGlyphs">2000</text>
<text x="327.0" y="374.3" font-size="9.8" text-anchor="end" font-weight="normal" fill="#111" stroke="#111" stroke-width="0.22" textLength="5.15" lengthAdjust="spacingAndGlyphs">0</text>
<text x="327.0" y="337.2" font-size="9.8" text-anchor="end" font-weight="normal" fill="#111" stroke="#111" stroke-width="0.22" textLength="5.15" lengthAdjust="spacingAndGlyphs">1</text>
<text x="327.0" y="300.1" font-size="9.8" text-anchor="end" font-weight="normal" fill="#111" stroke="#111" stroke-width="0.22" textLength="5.15" lengthAdjust="spacingAndGlyphs">2</text>
<text x="327.0" y="263.0" font-size="9.8" text-anchor="end" font-weight="normal" fill="#111" stroke="#111" stroke-width="0.22" textLength="5.15" lengthAdjust="spacingAndGlyphs">3</text>
<text x="327.0" y="225.9" font-size="9.8" text-anchor="end" font-weight="normal" fill="#111" stroke="#111" stroke-width="0.22" textLength="5.15" lengthAdjust="spacingAndGlyphs">4</text>
<line x1="331.50" y1="297.50" x2="592.40" y2="297.50" stroke="#404040" stroke-width="1.0" stroke-dasharray="8.8 2.8"/>
<path d="M381.50,370.90 C381.98,370.88 383.22,371.08 384.40,370.80 C385.58,370.52 387.07,370.04 388.60,369.25 C390.13,368.45 391.93,367.11 393.60,366.04 C395.27,364.97 396.93,363.90 398.60,362.84 C400.27,361.78 401.93,360.71 403.60,359.66 C405.27,358.60 406.93,357.54 408.60,356.49 C410.27,355.44 411.93,354.39 413.60,353.35 C415.27,352.30 416.93,351.26 418.60,350.22 C420.27,349.18 421.93,348.14 423.60,347.11 C425.27,346.08 426.93,345.05 428.60,344.03 C430.27,343.01 431.93,341.99 433.60,340.97 C435.27,339.95 436.93,338.94 438.60,337.93 C440.27,336.92 441.93,335.92 443.60,334.92 C445.27,333.92 446.93,332.92 448.60,331.93 C450.27,330.94 451.93,329.95 453.60,328.97 C455.27,327.98 456.93,327.00 458.60,326.03 C460.27,325.05 461.93,324.08 463.60,323.11 C465.27,322.15 466.93,321.18 468.60,320.22 C470.27,319.26 471.93,318.31 473.60,317.36 C475.27,316.41 476.93,315.46 478.60,314.51 C480.27,313.57 481.93,312.63 483.60,311.69 C485.27,310.76 486.93,309.82 488.60,308.90 C490.27,307.97 491.93,307.04 493.60,306.12 C495.27,305.19 496.93,304.27 498.60,303.36 C500.27,302.44 501.93,301.53 503.60,300.62 C505.27,299.71 506.93,298.80 508.60,297.89 C510.27,296.99 511.93,296.08 513.60,295.18 C515.27,294.28 516.93,293.38 518.60,292.49 C520.27,291.59 521.93,290.69 523.60,289.80 C525.27,288.91 526.93,288.01 528.60,287.12 C530.27,286.23 531.93,285.34 533.60,284.45 C535.27,283.56 536.93,282.67 538.60,281.79 C540.27,280.90 541.93,280.01 543.60,279.12 C545.27,278.23 546.93,277.34 548.60,276.45 C550.27,275.56 551.93,274.67 553.60,273.78 C555.27,272.89 556.93,272.00 558.60,271.10 C560.27,270.21 561.93,269.31 563.60,268.41 C565.27,267.51 566.93,266.61 568.60,265.71 C570.27,264.81 571.93,263.90 573.60,262.99 C575.27,262.08 576.93,261.16 578.60,260.25 C580.27,259.33 582.45,258.11 583.60,257.48 C584.75,256.84 584.55,257.06 585.50,256.42 C586.45,255.77 588.25,254.44 589.30,253.60 C590.35,252.76 591.33,251.88 591.80,251.40 C592.27,250.92 592.05,250.82 592.10,250.70" fill="none" stroke="#ff6e14" stroke-width="1.5" stroke-linejoin="round" stroke-linecap="round" />
<path d="M592.10,250.70 C591.95,250.58 591.67,250.17 591.20,250.00 C590.73,249.83 590.17,249.62 589.30,249.70 C588.43,249.78 587.38,250.12 586.00,250.48 C584.62,250.84 582.67,251.36 581.00,251.85 C579.33,252.34 577.67,252.86 576.00,253.40 C574.33,253.95 572.67,254.53 571.00,255.13 C569.33,255.73 567.67,256.36 566.00,257.02 C564.33,257.67 562.67,258.36 561.00,259.06 C559.33,259.76 557.67,260.49 556.00,261.24 C554.33,261.99 552.67,262.76 551.00,263.55 C549.33,264.34 547.67,265.15 546.00,265.98 C544.33,266.81 542.67,267.66 541.00,268.52 C539.33,269.38 537.67,270.26 536.00,271.15 C534.33,272.05 532.67,272.95 531.00,273.87 C529.33,274.79 527.67,275.73 526.00,276.67 C524.33,277.62 522.67,278.57 521.00,279.54 C519.33,280.50 517.67,281.48 516.00,282.46 C514.33,283.44 512.67,284.44 511.00,285.43 C509.33,286.43 507.67,287.43 506.00,288.44 C504.33,289.45 502.67,290.47 501.00,291.49 C499.33,292.50 497.67,293.53 496.00,294.55 C494.33,295.58 492.67,296.61 491.00,297.64 C489.33,298.67 487.67,299.70 486.00,300.74 C484.33,301.77 482.67,302.80 481.00,303.84 C479.33,304.87 477.67,305.91 476.00,306.94 C474.33,307.98 472.67,309.01 471.00,310.05 C469.33,311.08 467.67,312.11 466.00,313.15 C464.33,314.18 462.67,315.21 461.00,316.24 C459.33,317.27 457.67,318.30 456.00,319.33 C454.33,320.36 452.67,321.38 451.00,322.41 C449.33,323.44 447.67,324.46 446.00,325.49 C444.33,326.52 442.67,327.54 441.00,328.57 C439.33,329.59 437.67,330.62 436.00,331.65 C434.33,332.68 432.67,333.71 431.00,334.74 C429.33,335.77 427.67,336.81 426.00,337.85 C424.33,338.89 422.67,339.93 421.00,340.98 C419.33,342.03 417.67,343.09 416.00,344.15 C414.33,345.21 412.67,346.28 411.00,347.37 C409.33,348.45 407.67,349.54 406.00,350.64 C404.33,351.75 402.67,352.86 401.00,353.99 C399.33,355.13 397.53,356.37 396.00,357.44 C394.47,358.51 392.85,359.50 391.80,360.41 C390.75,361.32 390.42,362.14 389.70,362.90 C388.98,363.66 388.38,364.22 387.50,365.00 C386.62,365.78 385.28,366.90 384.40,367.60 C383.52,368.30 382.57,368.93 382.20,369.20" fill="none" stroke="#ff6e14" stroke-width="1.5" stroke-linejoin="round" stroke-linecap="round" />
<path d="M382.50,370.50 C383.75,369.78 387.08,368.02 390.00,366.20 C392.92,364.38 396.67,361.80 400.00,359.60 C403.33,357.40 406.67,355.16 410.00,353.00 C413.33,350.84 417.50,348.22 420.00,346.67 C422.50,345.11 423.33,344.68 425.00,343.69 C426.67,342.70 428.33,341.71 430.00,340.71 C431.67,339.72 433.33,338.73 435.00,337.74 C436.67,336.74 438.33,335.75 440.00,334.76 C441.67,333.76 443.33,332.77 445.00,331.77 C446.67,330.78 448.33,329.78 450.00,328.78 C451.67,327.78 453.33,326.78 455.00,325.78 C456.67,324.78 458.33,323.77 460.00,322.77 C461.67,321.76 463.33,320.76 465.00,319.74 C466.67,318.73 468.33,317.72 470.00,316.71 C471.67,315.69 473.33,314.67 475.00,313.65 C476.67,312.63 478.33,311.60 480.00,310.58 C481.67,309.55 483.33,308.52 485.00,307.48 C486.67,306.45 488.33,305.41 490.00,304.36 C491.67,303.32 493.33,302.27 495.00,301.22 C496.67,300.17 498.33,299.12 500.00,298.05 C501.67,296.99 503.33,295.93 505.00,294.86 C506.67,293.79 508.33,292.71 510.00,291.63 C511.67,290.55 513.33,289.46 515.00,288.37 C516.67,287.28 518.33,286.18 520.00,285.08 C521.67,283.97 523.33,282.86 525.00,281.75 C526.67,280.63 528.33,279.51 530.00,278.38 C531.67,277.25 533.33,276.11 535.00,274.97 C536.67,273.82 538.33,272.67 540.00,271.52 C541.67,270.36 543.62,268.99 545.00,268.02 C546.38,267.05 547.08,266.82 548.30,265.69 C549.52,264.55 551.12,262.63 552.30,261.20 C553.48,259.77 554.63,258.20 555.40,257.10 C556.17,256.00 556.47,255.35 556.90,254.60 C557.33,253.85 557.82,252.93 558.00,252.60" fill="none" stroke="#ff6e14" stroke-width="1.4" stroke-linejoin="round" stroke-linecap="round" stroke-dasharray="0.1 2.5" stroke-opacity="1"/>
<path d="M558.00,252.60 C557.77,252.30 557.13,251.23 556.60,250.80 C556.07,250.37 555.85,250.22 554.80,250.00 C553.75,249.78 551.88,249.48 550.30,249.50 C548.72,249.52 546.93,249.73 545.30,250.10 C543.67,250.47 542.15,251.15 540.50,251.70 C538.85,252.25 537.08,252.82 535.40,253.40 C533.72,253.98 532.08,254.62 530.40,255.20 C528.72,255.78 526.98,256.35 525.30,256.90 C523.62,257.45 521.98,257.95 520.30,258.50 C518.62,259.05 516.88,259.60 515.20,260.20 C513.52,260.80 511.88,261.38 510.20,262.10 C508.52,262.82 506.78,263.65 505.10,264.50 C503.42,265.35 501.92,266.25 500.10,267.20 C498.28,268.15 496.23,269.15 494.20,270.20 C492.17,271.25 490.00,272.38 487.90,273.50 C485.80,274.62 483.70,275.75 481.60,276.90 C479.50,278.05 477.42,279.20 475.30,280.40 C473.18,281.60 471.02,282.85 468.90,284.10 C466.78,285.35 464.70,286.65 462.60,287.90 C460.50,289.15 458.18,290.45 456.30,291.60 C454.42,292.75 453.32,293.50 451.30,294.80 C449.28,296.10 446.43,297.97 444.20,299.40 C441.97,300.83 440.00,302.12 437.90,303.40 C435.80,304.68 433.70,305.85 431.60,307.10 C429.50,308.35 427.42,309.63 425.30,310.90 C423.18,312.17 421.02,313.43 418.90,314.70 C416.78,315.97 414.70,317.25 412.60,318.50 C410.50,319.75 408.40,320.95 406.30,322.20 C404.20,323.45 402.02,324.70 400.00,326.00 C397.98,327.30 396.22,328.67 394.20,330.00 C392.18,331.33 390.00,332.70 387.90,334.00 C385.80,335.30 383.70,336.53 381.60,337.80 C379.50,339.07 377.42,340.33 375.30,341.60 C373.18,342.87 371.02,344.12 368.90,345.40 C366.78,346.68 364.50,348.00 362.60,349.30 C360.70,350.60 358.95,351.95 357.50,353.20 C356.05,354.45 354.83,355.87 353.90,356.80 C352.97,357.73 352.62,358.17 351.90,358.80 C351.18,359.43 350.35,360.00 349.60,360.60 C348.85,361.20 348.12,361.85 347.40,362.40 C346.68,362.95 346.02,363.32 345.30,363.90 C344.58,364.48 343.55,366.03 343.10,365.90 C342.65,365.77 342.43,363.73 342.60,363.10 C342.77,362.47 343.65,362.52 344.10,362.10 C344.55,361.68 345.38,361.07 345.30,360.60 C345.22,360.13 343.88,359.52 343.60,359.30" fill="none" stroke="#ff6e14" stroke-width="1.4" stroke-linejoin="round" stroke-linecap="round" stroke-dasharray="0.1 2.5" stroke-opacity="1"/>
<circle cx="331.5" cy="357.4" r="1.3" fill="#ff6e14"/>
<circle cx="332.2" cy="354.8" r="1.3" fill="#ff6e14"/>
<circle cx="333.0" cy="352.3" r="1.3" fill="#ff6e14"/>
<circle cx="334.0" cy="350.8" r="1.3" fill="#ff6e14"/>
<circle cx="335.0" cy="349.3" r="1.3" fill="#ff6e14"/>
<circle cx="336.5" cy="347.8" r="1.3" fill="#ff6e14"/>
<circle cx="338.1" cy="346.3" r="1.3" fill="#ff6e14"/>
<circle cx="340.1" cy="344.2" r="1.3" fill="#ff6e14"/>
<circle cx="341.6" cy="343.0" r="1.3" fill="#ff6e14"/>
<circle cx="343.1" cy="341.7" r="1.3" fill="#ff6e14"/>
<circle cx="344.6" cy="340.4" r="1.3" fill="#ff6e14"/>
<circle cx="346.2" cy="339.2" r="1.3" fill="#ff6e14"/>
<circle cx="348.2" cy="337.7" r="1.3" fill="#ff6e14"/>
<circle cx="350.2" cy="336.2" r="1.3" fill="#ff6e14"/>
<circle cx="352.2" cy="334.4" r="1.3" fill="#ff6e14"/>
<circle cx="354.2" cy="332.6" r="1.3" fill="#ff6e14"/>
<circle cx="356.2" cy="330.8" r="1.3" fill="#ff6e14"/>
<circle cx="358.3" cy="329.1" r="1.3" fill="#ff6e14"/>
<circle cx="360.8" cy="327.3" r="1.3" fill="#ff6e14"/>
<circle cx="363.3" cy="325.6" r="1.3" fill="#ff6e14"/>
<circle cx="365.4" cy="323.8" r="1.3" fill="#ff6e14"/>
<circle cx="367.4" cy="322.0" r="1.3" fill="#ff6e14"/>
<circle cx="370.0" cy="320.0" r="1.3" fill="#ff6e14"/>
<circle cx="372.4" cy="318.0" r="1.3" fill="#ff6e14"/>
<circle cx="374.4" cy="317.2" r="1.3" fill="#ff6e14"/>
<circle cx="377.4" cy="314.0" r="1.3" fill="#ff6e14"/>
<circle cx="380.4" cy="311.2" r="1.3" fill="#ff6e14"/>
<circle cx="385.2" cy="308.3" r="1.3" fill="#ff6e14"/>
<circle cx="390.0" cy="303.5" r="1.3" fill="#ff6e14"/>
<circle cx="393.0" cy="302.0" r="1.3" fill="#ff6e14"/>
<circle cx="396.0" cy="300.4" r="1.3" fill="#ff6e14"/>
<circle cx="399.6" cy="297.3" r="1.3" fill="#ff6e14"/>
<circle cx="404.4" cy="293.2" r="1.3" fill="#ff6e14"/>
<circle cx="409.2" cy="290.1" r="1.3" fill="#ff6e14"/>
<circle cx="414.0" cy="286.7" r="1.3" fill="#ff6e14"/>
<circle cx="418.8" cy="284.3" r="1.3" fill="#ff6e14"/>
<circle cx="422.3" cy="280.9" r="1.3" fill="#ff6e14"/>
<circle cx="426.8" cy="276.4" r="1.3" fill="#ff6e14"/>
<circle cx="430.9" cy="274.8" r="1.3" fill="#ff6e14"/>
<circle cx="435.5" cy="270.9" r="1.3" fill="#ff6e14"/>
<circle cx="440.8" cy="267.6" r="1.3" fill="#ff6e14"/>
<circle cx="445.3" cy="264.5" r="1.3" fill="#ff6e14"/>
<circle cx="450.8" cy="259.9" r="1.3" fill="#ff6e14"/>
<circle cx="456.7" cy="257.2" r="1.3" fill="#ff6e14"/>
<circle cx="463.3" cy="253.1" r="1.3" fill="#ff6e14"/>
<circle cx="470.2" cy="248.7" r="1.3" fill="#ff6e14"/>
<circle cx="477.4" cy="245.7" r="1.3" fill="#ff6e14"/>
<circle cx="484.5" cy="241.2" r="1.3" fill="#ff6e14"/>
<circle cx="491.8" cy="238.6" r="1.3" fill="#ff6e14"/>
<circle cx="498.1" cy="235.8" r="1.3" fill="#ff6e14"/>
<circle cx="504.0" cy="232.8" r="1.3" fill="#ff6e14"/>
<circle cx="508.9" cy="231.6" r="1.3" fill="#ff6e14"/>
<circle cx="513.9" cy="229.5" r="1.3" fill="#ff6e14"/>
<circle cx="518.4" cy="227.8" r="1.3" fill="#ff6e14"/>
<circle cx="522.2" cy="227.1" r="1.3" fill="#ff6e14"/>
<circle cx="525.5" cy="225.5" r="1.3" fill="#ff6e14"/>
<circle cx="528.9" cy="225.8" r="1.3" fill="#ff6e14"/>
<circle cx="531.7" cy="225.0" r="1.3" fill="#ff6e14"/>
<circle cx="533.9" cy="225.8" r="1.3" fill="#ff6e14"/>
<circle cx="536.0" cy="227.0" r="1.3" fill="#ff6e14"/>
<circle cx="381.5" cy="370.6" r="1.3" fill="#ff6e14"/>
<circle cx="383.5" cy="370.6" r="1.3" fill="#ff6e14"/>
<circle cx="385.5" cy="370.6" r="1.3" fill="#ff6e14"/>
<circle cx="387.5" cy="370.6" r="1.3" fill="#ff6e14"/>
<circle cx="388.6" cy="363.9" r="1.3" fill="#ff6e14"/>
<circle cx="389.7" cy="360.2" r="1.3" fill="#ff6e14"/>
<circle cx="390.7" cy="361.8" r="1.3" fill="#ff6e14"/>
<circle cx="391.8" cy="365.0" r="1.3" fill="#ff6e14"/>
<circle cx="395.0" cy="360.8" r="1.3" fill="#ff6e14"/>
<circle cx="397.1" cy="357.0" r="1.3" fill="#ff6e14"/>
<circle cx="399.2" cy="361.3" r="1.3" fill="#ff6e14"/>
<circle cx="400.8" cy="355.5" r="1.3" fill="#ff6e14"/>
<circle cx="406.1" cy="349.6" r="1.3" fill="#ff6e14"/>
<circle cx="408.8" cy="350.7" r="1.3" fill="#ff6e14"/>
<circle cx="411.9" cy="342.7" r="1.3" fill="#ff6e14"/>
<circle cx="414.6" cy="343.8" r="1.3" fill="#ff6e14"/>
<circle cx="418.1" cy="337.6" r="1.3" fill="#ff6e14"/>
<circle cx="421.5" cy="333.6" r="1.3" fill="#ff6e14"/>
<circle cx="425.3" cy="330.3" r="1.3" fill="#ff6e14"/>
<circle cx="429.5" cy="325.9" r="1.3" fill="#ff6e14"/>
<circle cx="433.6" cy="322.7" r="1.3" fill="#ff6e14"/>
<circle cx="437.7" cy="318.9" r="1.3" fill="#ff6e14"/>
<circle cx="441.7" cy="314.9" r="1.3" fill="#ff6e14"/>
<circle cx="445.9" cy="312.2" r="1.3" fill="#ff6e14"/>
<circle cx="449.9" cy="307.8" r="1.3" fill="#ff6e14"/>
<circle cx="454.1" cy="304.8" r="1.3" fill="#ff6e14"/>
<circle cx="458.9" cy="301.4" r="1.3" fill="#ff6e14"/>
<circle cx="464.0" cy="296.3" r="1.3" fill="#ff6e14"/>
<circle cx="469.3" cy="293.1" r="1.3" fill="#ff6e14"/>
<circle cx="475.4" cy="287.8" r="1.3" fill="#ff6e14"/>
<circle cx="481.0" cy="282.9" r="1.3" fill="#ff6e14"/>
<circle cx="487.4" cy="278.5" r="1.3" fill="#ff6e14"/>
<circle cx="493.6" cy="271.9" r="1.3" fill="#ff6e14"/>
<circle cx="500.1" cy="267.6" r="1.3" fill="#ff6e14"/>
<circle cx="506.1" cy="263.2" r="1.3" fill="#ff6e14"/>
<circle cx="510.6" cy="258.5" r="1.3" fill="#ff6e14"/>
<circle cx="515.1" cy="255.7" r="1.3" fill="#ff6e14"/>
<circle cx="519.2" cy="251.2" r="1.3" fill="#ff6e14"/>
<circle cx="522.7" cy="248.2" r="1.3" fill="#ff6e14"/>
<circle cx="526.0" cy="245.4" r="1.3" fill="#ff6e14"/>
<circle cx="528.9" cy="241.6" r="1.3" fill="#ff6e14"/>
<circle cx="531.4" cy="239.9" r="1.3" fill="#ff6e14"/>
<circle cx="533.9" cy="236.6" r="1.3" fill="#ff6e14"/>
<circle cx="535.5" cy="233.6" r="1.3" fill="#ff6e14"/>
<circle cx="537.8" cy="229.3" r="1.7" fill="#000"/>
<circle cx="558.0" cy="252.6" r="1.7" fill="#000"/>
<circle cx="592.1" cy="250.7" r="1.7" fill="#000"/>
<text x="340.6" y="217.5" font-size="12.8" text-anchor="start" font-weight="normal" fill="#111" stroke="#111" stroke-width="0.22" textLength="9.6" lengthAdjust="spacingAndGlyphs" style="stroke-width:0.45px">d.</text>
<rect x="331.50" y="204.60" width="260.90" height="167.00" fill="none" stroke="#484848" stroke-width="1"/>
<text x="460.3" y="393.6" font-size="9.6" text-anchor="middle" font-weight="normal" fill="#111" stroke="#111" stroke-width="0.22" textLength="122" lengthAdjust="spacingAndGlyphs">Cumulative Emissions (Pg C)</text>
<text transform="translate(316.6,286.2) rotate(-90)" x="0" y="0" font-size="10.4" text-anchor="middle" fill="#111" stroke="#111" stroke-width="0.22" textLength="115" lengthAdjust="spacingAndGlyphs">Temperature Anomaly (°C)</text>
</svg></body></html>
